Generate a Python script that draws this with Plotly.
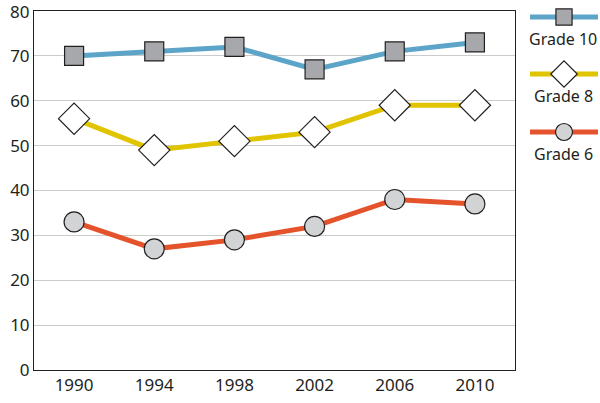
import plotly.graph_objects as go

years = [1990, 1994, 1998, 2002, 2006, 2010]
grade10 = [70, 71, 72, 67, 71, 73]
grade8 = [56, 49, 51, 53, 59, 59]
grade6 = [33, 27, 29, 32, 38, 37]
y_ticks = [0, 10, 20, 30, 40, 50, 60, 70, 80]

series = [
    ("Grade 10", grade10, "#5CA4C8", "square", "#A6A8AB", 19),
    ("Grade 8", grade8, "#E1C400", "diamond", "#FFFFFF", 24),
    ("Grade 6", grade6, "#E4532B", "circle", "#D2D3D5", 20),
]

FONT = "Noto Sans"
W, H = 600, 403
ML, MR, MT, MB = 34, 0, 11, 33
pw = W - ML - MR

fig = go.Figure()
for name, vals, lc, sym, fc, sz in series:
    fig.add_trace(go.Scatter(
        x=years, y=vals, mode="lines+markers", name=name,
        line=dict(color=lc, width=5),
        marker=dict(symbol=sym, size=sz, color=fc, line=dict(color="#231F20", width=1.2)),
        showlegend=False, cliponaxis=False,
    ))

# custom legend drawn in pixel-like coordinates on a helper axis
leg_rows = [17, 74, 132]
for (name, vals, lc, sym, fc, sz), ly in zip(series, leg_rows):
    fig.add_trace(go.Scatter(
        x=[530, 598], y=[ly, ly], mode="lines", line=dict(color=lc, width=5),
        xaxis="x2", yaxis="y2", showlegend=False, hoverinfo="skip",
    ))
    fig.add_trace(go.Scatter(
        x=[564], y=[ly], mode="markers",
        marker=dict(symbol=sym, size=sz * 0.85, color=fc, line=dict(color="#231F20", width=1.2)),
        xaxis="x2", yaxis="y2", showlegend=False, hoverinfo="skip", cliponaxis=False,
    ))
    fig.add_annotation(x=563, y=ly + 22, xref="x2", yref="y2", text=name, showarrow=False,
                       font=dict(family=FONT, size=16, color="#231F20"))

# top tick label (plotly drops the label sitting on the frame edge)
fig.add_annotation(x=0, y=y_ticks[-1], xref="paper", yref="y", text=str(y_ticks[-1]),
                   showarrow=False, xanchor="right", xshift=-3, yanchor="middle",
                   font=dict(family=FONT, size=17, color="#231F20"))

fig.update_layout(
    width=W, height=H,
    margin=dict(l=ML, r=MR, t=MT, b=MB, autoexpand=False),
    paper_bgcolor="white", plot_bgcolor="white",
    font=dict(family=FONT, size=17, color="#231F20"),
    xaxis=dict(
        domain=[0, 481 / pw], range=[1988, 2012], automargin=False,
        tickmode="array", tickvals=years, ticktext=[str(y) for y in years],
        showgrid=False, zeroline=False,
        showline=True, linecolor="#231F20", linewidth=1, mirror=True,
        ticks="", ticklen=0, tickfont=dict(size=17),
    ),
    yaxis=dict(
        range=[0, 80], automargin=False, tickmode="array", tickvals=y_ticks[:-1],
        showgrid=True, gridcolor="#CCCCCC", gridwidth=1, zeroline=False,
        showline=True, linecolor="#231F20", linewidth=1, mirror=True,
        ticks="", tickfont=dict(size=17),
    ),
    xaxis2=dict(domain=[(528 - ML) / pw, 1], range=[528, 600], visible=False, anchor="y2", automargin=False),
    yaxis2=dict(domain=[0, 1], range=[370, 11], visible=False, anchor="x2", automargin=False),
)

fig.write_html(
    "out.html",
    config={"displayModeBar": False},
    post_script="document.body.style.margin='0';document.body.style.padding='0';",
)
